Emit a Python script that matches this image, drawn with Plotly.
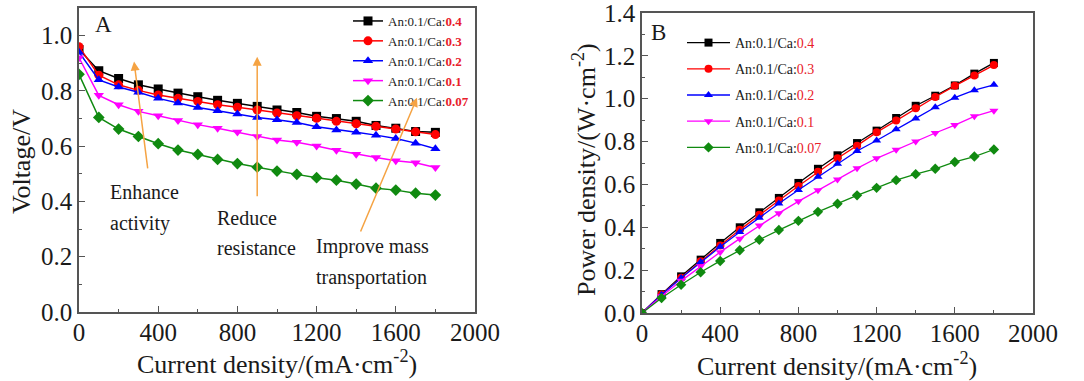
import plotly.graph_objects as go

current = [0, 100, 200, 300, 400, 500, 600, 700, 800, 900, 1000, 1100, 1200, 1300, 1400, 1500, 1600, 1700, 1800]

series_labels = ["0.4", "0.3", "0.2", "0.1", "0.07"]
colors = ["#000000", "#ff0000", "#0000ff", "#ff00ff", "#108a10"]
symbols = ["square", "circle", "triangle-up", "triangle-down", "diamond"]

volt_04 = [0.95, 0.873, 0.845, 0.822, 0.807, 0.792, 0.779, 0.766, 0.755, 0.744, 0.731, 0.722, 0.708, 0.700, 0.690, 0.675, 0.665, 0.653, 0.650]
volt_03 = [0.96, 0.857, 0.822, 0.802, 0.785, 0.773, 0.762, 0.750, 0.741, 0.731, 0.720, 0.710, 0.701, 0.690, 0.681, 0.672, 0.662, 0.652, 0.642]
volt_02 = [0.94, 0.840, 0.814, 0.795, 0.773, 0.756, 0.740, 0.728, 0.716, 0.704, 0.696, 0.686, 0.670, 0.659, 0.650, 0.640, 0.628, 0.611, 0.591]
volt_01 = [0.92, 0.784, 0.750, 0.726, 0.710, 0.693, 0.678, 0.665, 0.651, 0.635, 0.622, 0.614, 0.601, 0.585, 0.571, 0.559, 0.547, 0.540, 0.523]
volt_007 = [0.86, 0.704, 0.662, 0.635, 0.609, 0.586, 0.570, 0.552, 0.537, 0.524, 0.510, 0.498, 0.486, 0.477, 0.463, 0.448, 0.441, 0.430, 0.423]

power_04 = [0.0, 0.088, 0.171, 0.249, 0.327, 0.400, 0.470, 0.537, 0.607, 0.673, 0.736, 0.793, 0.851, 0.910, 0.967, 1.014, 1.062, 1.117, 1.167]
power_03 = [0.0, 0.086, 0.165, 0.241, 0.315, 0.388, 0.458, 0.525, 0.593, 0.659, 0.722, 0.781, 0.843, 0.898, 0.955, 1.008, 1.060, 1.108, 1.157]
power_02 = [0.0, 0.085, 0.163, 0.238, 0.309, 0.378, 0.445, 0.511, 0.574, 0.636, 0.697, 0.756, 0.805, 0.858, 0.908, 0.960, 1.005, 1.040, 1.065]
power_01 = [0.0, 0.078, 0.150, 0.218, 0.284, 0.347, 0.408, 0.466, 0.521, 0.573, 0.623, 0.675, 0.722, 0.762, 0.800, 0.840, 0.877, 0.918, 0.944]
power_007 = [0.0, 0.070, 0.132, 0.190, 0.243, 0.293, 0.342, 0.387, 0.430, 0.472, 0.510, 0.549, 0.584, 0.620, 0.648, 0.673, 0.705, 0.730, 0.763]

voltages = [volt_04, volt_03, volt_02, volt_01, volt_007]
powers = [power_04, power_03, power_02, power_01, power_007]

FONT = "Liberation Serif"
TXT = "#1a1a1a"
ORANGE = "#f5a343"
FRAME = "#555555"

fig = go.Figure()

for i in range(5):
    fig.add_trace(go.Scatter(
        x=current, y=voltages[i], mode="lines+markers",
        name="An:0.1/Ca:<b><span style='color:#e8202a'>%s</span></b>" % series_labels[i],
        line=dict(color=colors[i], width=1.5),
        marker=dict(symbol=symbols[i], size=9, color=colors[i]),
        xaxis="x", yaxis="y", legend="legend",
    ))

for i in range(5):
    fig.add_trace(go.Scatter(
        x=current, y=powers[i], mode="lines+markers",
        name="An:0.1/Ca:<span style='color:#e8202a'>%s</span>" % series_labels[i],
        line=dict(color=colors[i], width=1.3),
        marker=dict(symbol=symbols[i], size=8, color=colors[i]),
        xaxis="x2", yaxis="y2", legend="legend2", legendgroup="b%d" % i,
    ))

axis_common = dict(
    showline=True, linecolor=FRAME, linewidth=1.5, mirror=True,
    ticks="inside", ticklen=6, tickwidth=1.2, tickcolor=FRAME,
    showgrid=False, zeroline=False, automargin=False, ticklabeloverflow="allow",
    tickfont=dict(family=FONT, size=25, color=TXT),
)

W, H = 1084, 381
fig.update_layout(
    width=W, height=H,
    margin=dict(l=0, r=0, t=0, b=0, autoexpand=False),
    paper_bgcolor="white", plot_bgcolor="white",
    font=dict(family=FONT, color=TXT),
    xaxis=dict(domain=[79/W, 475/W], range=[0, 2000], dtick=400, anchor="y", ticklabelstandoff=-3,
               minor=dict(ticks="inside", dtick=200, ticklen=3, tickcolor=FRAME), **axis_common),
    yaxis=dict(domain=[1-312/H, 1-8/H], range=[0, 1.1], dtick=0.2, tickformat=".1f", anchor="x",
               minor=dict(ticks="inside", dtick=0.1, ticklen=3, tickcolor=FRAME), **axis_common),
    xaxis2=dict(domain=[642/W, 1033/W], range=[0, 2000], dtick=400, anchor="y2", ticklabelstandoff=-3,
                minor=dict(ticks="inside", dtick=200, ticklen=3, tickcolor=FRAME), **axis_common),
    yaxis2=dict(domain=[1-313/H, 1-13/H], range=[0, 1.4], dtick=0.2, tickformat=".1f", anchor="x2",
                minor=dict(ticks="inside", dtick=0.1, ticklen=3, tickcolor=FRAME), **axis_common),
    legend=dict(x=348/W, y=1-6/H, xanchor="left", yanchor="top",
                font=dict(family=FONT, size=13, color=TXT), bgcolor="rgba(0,0,0,0)",
                itemwidth=30, tracegroupgap=0, itemclick=False),
    legend2=dict(x=682/W, y=1-27/H, xanchor="left", yanchor="top",
                 font=dict(family=FONT, size=14, color=TXT), bgcolor="rgba(0,0,0,0)",
                 itemwidth=43, tracegroupgap=5, itemclick=False),
    showlegend=True,
)

annotations = []
# panel labels
annotations.append(dict(x=103/W, y=1-25/H, xref="paper", yref="paper", text="A", showarrow=False,
                        font=dict(family=FONT, size=23, color=TXT), xanchor="center", yanchor="middle"))
annotations.append(dict(x=658/W, y=1-33/H, xref="paper", yref="paper", text="B", showarrow=False,
                        font=dict(family=FONT, size=23, color=TXT), xanchor="center", yanchor="middle"))
# axis titles
xt = "Current density/(mA·cm<sup>-2</sup>)"
annotations.append(dict(x=277/W, y=1-362/H, xref="paper", yref="paper", text=xt, showarrow=False,
                        font=dict(family=FONT, size=26, color=TXT), xanchor="center", yanchor="middle"))
annotations.append(dict(x=837/W, y=1-364/H, xref="paper", yref="paper", text=xt, showarrow=False,
                        font=dict(family=FONT, size=26, color=TXT), xanchor="center", yanchor="middle"))
annotations.append(dict(x=21/W, y=1-162/H, xref="paper", yref="paper", text="Voltage/V", showarrow=False,
                        textangle=-90, font=dict(family=FONT, size=26, color=TXT), xanchor="center", yanchor="middle"))
annotations.append(dict(x=584/W, y=1-170/H, xref="paper", yref="paper", text="Power density/(W·cm<sup>-2</sup>)",
                        showarrow=False, textangle=-90, font=dict(family=FONT, size=26, color=TXT),
                        xanchor="center", yanchor="middle"))
# arrows (panel A, data coordinates)
arrows = [((348, 0.514), (278, 0.906)), ((900, 0.413), (900, 0.924)), ((1419, 0.286), (1707, 0.775))]
for (x0, y0), (x1, y1) in arrows:
    annotations.append(dict(x=x1, y=y1, ax=x0, ay=y0, xref="x", yref="y", axref="x", ayref="y",
                            showarrow=True, arrowhead=2, arrowsize=1.2, arrowwidth=1.5, arrowcolor=ORANGE, text=""))
# text labels (panel A)
labels = [("Enhance", 146, 192), ("activity", 146, 223), ("Reduce", 687, 218), ("resistance", 687, 248),
          ("Improve mass", 1185, 246), ("transportation", 1185, 277)]
for t, xd, ypx in labels:
    annotations.append(dict(x=xd, y=1-ypx/H, xref="x", yref="paper", text=t, showarrow=False,
                            font=dict(family=FONT, size=20, color=TXT), xanchor="left", yanchor="middle"))
fig.update_layout(annotations=annotations)

fig.write_html("out.html")
